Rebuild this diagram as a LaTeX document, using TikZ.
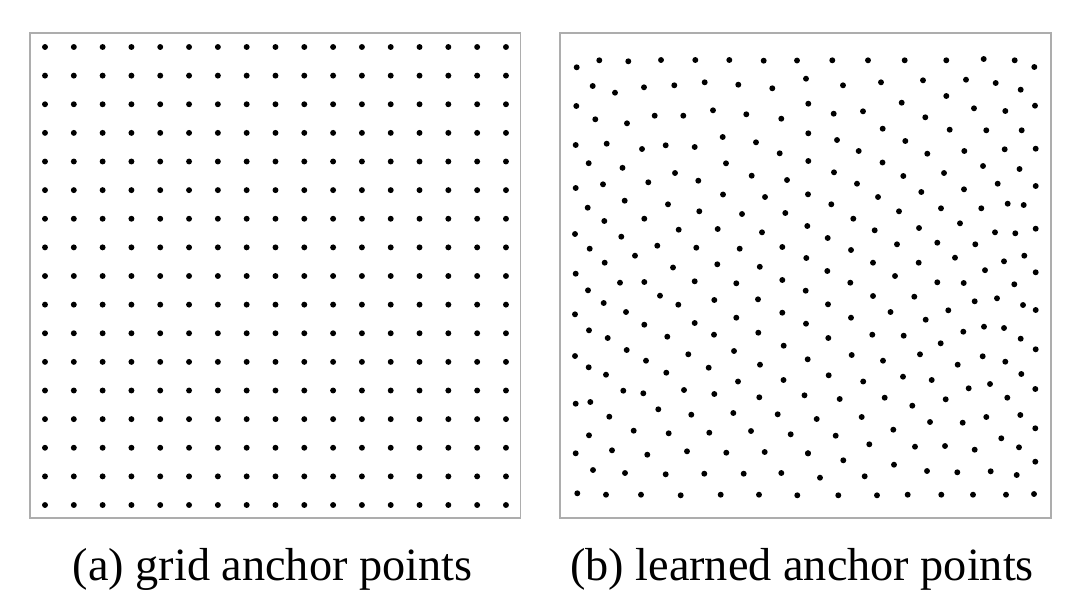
\documentclass[tikz,border=0pt]{standalone}
\usepackage{fontspec}
\setmainfont{Liberation Serif}
\usepackage{tikz}
\usetikzlibrary{positioning}

\begin{document}
\begin{tikzpicture}[x=0.025cm, y=-0.025cm,
  frame/.style={draw=black!32, line width=0.9pt},
  anchorpt/.style={fill=black},
  caption/.style={anchor=base, inner sep=0pt, font=\fontsize{32.9}{38}\selectfont}]
  \useasboundingbox (0,0) rectangle (1080,606);
  % panel (a): regular grid
  \draw[frame] (30,33) rectangle (520.5,518);
  \foreach \i in {0,...,16}
    \foreach \j in {0,...,16}
      \fill[anchorpt] ({45+\i*28.81},{47+\j*28.625}) circle[radius=0.074cm];
  % panel (b): learned points
  \draw[frame] (560,33) rectangle (1051,518);
  \foreach \px/\py in {576.7/67.3, 599.3/60.3, 628.3/61.3, 661/60, 695.3/60, 729.3/60, 763.7/60.7, 797/60.5,
    592.7/86, 615/92.7, 644/87.3, 674.3/85.3, 704.7/82.3, 738.3/84.7, 772.3/88.3,
    576.3/106, 595.3/119.3, 627/123.3, 654.7/115.7, 683.3/115.7, 713/110.3, 746.3/114.3, 781.3/118.7,
    575.7/145, 606.7/143.7, 642/149, 665.7/145.3, 694.7/147, 722.7/137, 756/142.3, 779.7/153.3,
    588.7/163.2, 622.5/167.8, 726/163.3,
    832.3/60.3, 868/60.3, 904.7/60.3, 946.3/60.3, 983.7/59, 1014.7/60.3, 1034.3/67,
    806/78.7, 843/85.3, 881/82.3, 923/80.3, 966/79.7, 995.7/83, 1020.7/89.7,
    808.3/103.7, 833.7/113.7, 863/111.3, 901.7/102.7, 946.3/96, 925.3/117.3, 974/108.3, 1005.3/111, 1035/105.7,
    808.3/133.3, 837/140, 882.7/128.7, 905.3/141, 949.7/129.7, 986.3/130.3, 1021.7/130.3,
    858.7/151, 927.3/153.7, 964.3/151, 1004.7/149.3, 1035.7/148.7,
    808.3/161, 882.5/162.5, 983/166, 1019.5/169,
    675/173, 698.3/180.7, 575.7/188, 603/184.3, 648.3/182.3, 723/194.5,
    587.7/207.7, 624.7/200.7, 668/204.3, 699.3/211.3, 604.3/221, 644.3/218.7,
    575/234, 621.3/236.7, 678.7/229.7, 717.7/229, 589.7/248.7, 657.3/245.7, 696.3/247.7,
    635/255.7, 604.7/262.7, 673/267.5, 717.3/264.3, 575.7/273.7,
    751.7/175.7, 787/180, 834/172.3, 857/183.7, 765/197, 808/194.3, 831.3/204.3, 878/197,
    742/214, 785.3/213, 853.3/218.7, 762/232.3, 807.3/226, 827.7/238, 874.7/230.3,
    739.7/248.7, 782.3/247, 851/250, 806.3/258, 873/262.7, 759.8/266.8, 827.3/271,
    903.3/176, 944/173, 997.7/183.7, 1035.7/186, 921.3/192, 964/189.3,
    899/211.3, 941/208.3, 981.3/208.3, 1007.7/203.7, 1023.7/205,
    919/228, 960/223.3, 995/232.3, 1015.3/233.3, 1035.7/228.7,
    897/244.3, 937.3/242.7, 975.3/244.3, 955/257.7, 918.7/262.7, 1004/261.3, 1024.3/255.7,
    985/270.2, 1035.7/272.3, 895/276,
    588/290.3, 620/282.7, 644.3/282, 694.7/281.3, 660/295.7, 678.3/304.7, 714.3/300, 603.7/303,
    575/314.3, 626/312, 644.3/324.7, 694.7/323, 589/330.3, 607.7/338, 667.3/336.7, 714/334.7,
    626.7/350, 575/356, 688.3/354.3, 588.7/367.3, 646/360.7, 606/374.7, 666.3/372.7, 708.7/367.7,
    736.3/283.3, 782.3/280, 805.7/290.7, 850.3/282.7, 758/299.3, 828/304.3, 873/296, 890.5/312,
    736.3/317.7, 782.3/312.7, 806/323.7, 851/317.7, 758.3/332.7, 828.3/338, 872.3/334.7,
    734/351, 783.7/345.7, 807.7/359.3, 851.7/355, 883/360.7, 760/364.7,
    738/381.5, 783.5/380, 828.7/375.3, 863.2/381.5,
    937.3/282.3, 963.7/283, 1014.3/284.3, 914.3/296.7, 974.7/301.3, 997/298.3, 1023/305, 1035.7/310,
    948.3/310.3, 925.7/319.7, 963.3/331.7, 984/326.7, 1004/328, 903.7/335.7, 940.7/343.3,
    1020.7/338.7, 1035.7/349.3, 920/354.3, 982.7/356.3, 957.7/364.7, 1005.3/361.7, 1021.3/374,
    903/376.7, 931.7/380, 990/384,
    623.3/390.7, 643.3/393.3, 684/390, 714.3/394, 759.3/397.3, 804.5/395.3,
    575.7/403.7, 590.3/402, 609.3/416.7, 658.3/409.3, 691.3/414.7, 733.3/413, 777.7/414.3,
    589/435.3, 633.7/430.7, 668.7/433.3, 709.3/432.7, 751/431, 790.7/434.3,
    575.7/453.3, 612/450.3, 647.3/454.7, 687/451.3, 726.3/452.7, 764.7/452, 808/453.3,
    593/470, 625/473, 665.7/474.3, 704.3/473.7, 743.7/473.7, 781.3/473,
    577.3/493.3, 606/494.7, 641/494.7, 680.7/495.3, 720.7/494.7, 759/494.7, 797.3/495.3,
    968.7/388.3, 1035.3/389, 839.7/399, 884.7/397.7, 912.3/405.7, 945.7/399.3, 1007.3/397.7,
    816.7/419, 861.7/417, 930/422, 962.7/422.7, 986.3/417, 1020.3/415, 893.3/429.7, 1035.3/428.3,
    835.7/435.7, 869.3/444.3, 915/446.7, 945/446, 974.7/449.7, 1001.3/438.3, 1019/447.3,
    808/453.3, 843.3/460.3, 894/464.7, 927/471, 957.3/472.3, 990.7/471.3, 1016.7/475, 1035.3/461.7,
    820/477.7, 864.7/476.3,
    838.3/495.3, 877/495.3, 907.7/494.7, 941.3/494.7, 973/494.7, 1006/494.7, 1034/494}
    \fill[anchorpt] (\px,\py) circle[radius=0.074cm];
  % captions
  \node[caption] (capa) at (272.5,580) {(a) grid anchor points};
  \node[caption] (capb) at (802,580) {(b) learned anchor points};
\end{tikzpicture}
\end{document}
